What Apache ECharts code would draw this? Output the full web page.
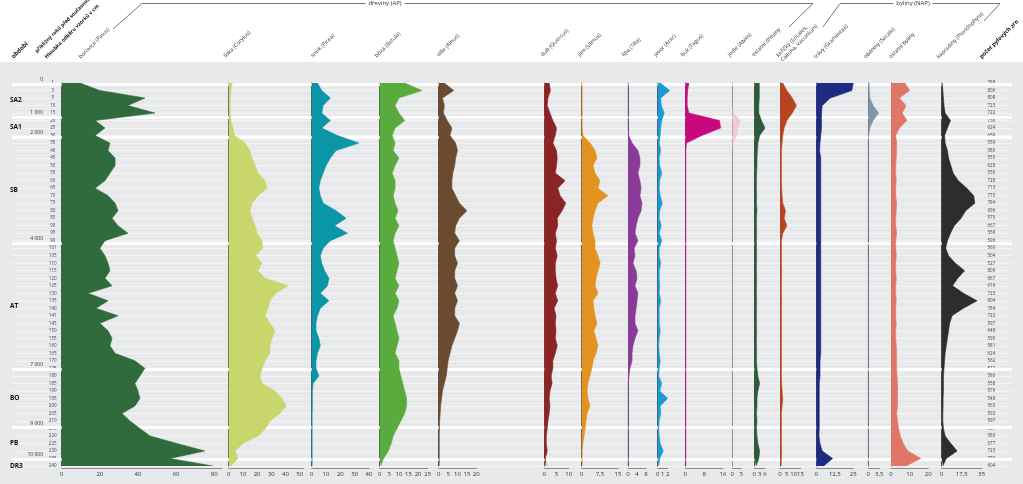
<!DOCTYPE html>
<html><head><meta charset="utf-8">
<script src="https://cdn.jsdelivr.net/npm/echarts@6/dist/echarts.min.js"></script>
<style>html,body{margin:0;padding:0;background:#fff}#c{width:1023px;height:484px}</style>
</head><body><div id="c"></div><script>
// ---------- data ----------
const depths = [1,3,5,10,15,20,25,30,35,40,45,50,55,60,65,70,75,80,85,90,95,99,101,105,110,115,120,125,130,135,140,141,145,150,155,160,165,170,175,180,185,190,195,200,205,210,215,220,225,230,235,240];
const counts = [788,806,808,723,722,738,624,658,559,586,555,628,550,728,713,770,784,696,575,667,558,596,560,504,527,809,667,616,723,804,784,722,597,648,590,581,624,562,572,586,558,576,548,563,592,597,587,580,677,723,770,604];
const zoneNames = ['SA2','SA1','SB','AT','BO','PB','DR3'];
const ageLabels = ['0','1 000','2 000','4 000','7 000','9 000','10 000'];
// zone boundaries in sample-row units (0 = first sample, 51 = last)
const zoneBounds = [0.1, 4.5, 7.2, 21.3, 38.1, 45.9, 50.1];

const borovice = [9.6,20,43.6,34.7,48.9,17.5,22.7,17.5,25.3,24.3,28,28,25.3,22.7,17.5,24.3,28,29.5,26.4,29.5,34.7,22.7,20,22.7,24.3,25.3,22.7,26.4,13.8,24.3,18,29.5,20,24.3,26.4,25.3,28,38.4,43.6,41,38.4,40,41,38.4,31.6,35.8,41,46.3,60.4,75,56.8,79.3];
const liska = [2.5,1.5,1,1,1,1.5,3,4,11.5,15,16.4,18.5,20.6,25.6,27,20.6,16.4,15,16.4,18.5,20,23.5,24,19,23.5,20.6,25.6,41.8,33,29,27.7,25.6,29,32.6,30.5,29,29,25.6,23.5,22,23.5,32.6,37.5,40.4,36,29,26,20.6,10,4.5,6.5,1.5];
const smrk = [4,7,13,8,7,13,7,18,33,17,13,10,8,6,5,6,8,17,24,16,25,13,8,6,7,9,12,11,6,12,6,4,3,3,5,6,4,3,3,5,1,0.5,0.5,0.5,0.3,0.3,0.3,0.3,0.3,0.3,0.3,0.3];
const briza = [13,22,10,8,10,13,8,6.5,8,7,10,8,6.5,8,8,7,8,9.5,8,10,8,7,8,9,10,9,8,10,8,10,9,7,8,9,10,9,8,10,10,11,12,13,14,14,13,11,9,7,6,4.5,2,0.5];
const olse = [3,8,2,3,2.5,4.5,7,6,9,10,9,8.5,7.5,7,7,9,11,15,11,9,8.5,11,8.5,8.5,10,8.5,8.5,10,8.5,10,8.5,8.5,11,10,8.5,7,6,5,4.5,4,3,2,1.5,1,0.8,0.5,0.4,0.3,0.3,0.3,0.3,0.3];
const dub = [2,2.5,1.5,1.2,2.3,3.5,5,4.5,3.5,5,5.3,5,4.5,8.5,5.5,6.5,8.8,7.3,5.3,5.5,4.5,5,4.5,5.3,4.5,4.5,4.8,5.5,4.5,5.5,4,4.8,4.5,4.8,4.5,5.3,4.5,3.5,3.5,2.8,3.2,2.3,2,2.3,2,1.5,1.2,0.8,0.8,1.2,0.4,0.8];
const jilm = [0.2,0.2,0.2,0.2,0.2,0.2,0.2,0.5,3.5,5.5,6.3,4.7,5.5,7.5,6.7,10.8,6.7,5.5,4.7,4.2,4.7,5.5,5.5,6.7,7.6,6.7,5.9,5.5,6.7,4.7,5,5.5,6.3,5,5.9,6.7,5.9,4.7,4.2,3.4,2.6,2.2,2.6,3.4,2.2,1.8,1.4,1,0.5,0.2,0.2,0.2];
const lipa = [0.1,0.1,0.1,0.1,0.1,0.1,0.1,0.3,1.8,4.4,5.3,5.3,4.4,5.3,5.8,5.3,6.2,5.8,4.4,3.6,3.1,4.4,2.7,3.1,2.2,3.6,4,3.1,4.4,4,3.6,3.1,3.1,4.4,3.1,2.2,1.8,1.8,0.9,0.4,0.1,0.1,0.1,0.1,0.1,0.1,0.1,0.1,0.1,0.1,0.1,0.1];
const javor = [0.5,2.4,0.6,0.7,1.3,0.8,0.6,0.5,0.3,0.6,0.3,0.4,0.8,0.4,0.3,0.5,0.9,0.4,0.3,0.7,0.3,0.8,0.3,0.3,0.6,0.3,0.3,0.4,0.3,0.6,0.3,0.3,0.3,0.5,0.3,0.2,0.3,0.5,0.3,0.2,0.8,0.4,2,0.5,0.6,0.3,0.2,0.3,0.5,1.1,0.4,0.2];
const buk = [1.5,1,0.8,0.8,1.5,14.5,15,7,0.5,0.2,0.2,0.2,0.2,0.2,0.2,0.2,0.2,0.2,0.2,0.2,0.2,0.2,0.2,0.2,0.2,0.2,0.2,0.2,0.2,0.2,0.2,0.2,0.2,0.2,0.2,0.2,0.2,0.2,0.2,0.2,0.2,0.2,0.2,0.2,0.2,0.2,0.2,0.2,0.2,0.2,0.2,0.2];
const jedle = [0,0,0,0,0.5,4.5,3,2.5,0.3,0,0,0,0,0,0,0,0,0,0,0,0,0,0,0,0,0,0,0,0,0,0,0,0,0,0,0,0,0,0,0,0,0,0,0,0,0,0,0,0,0,0,0];
const ostDreviny = [2.8,2.8,2.8,2.5,2.5,4,6,3,2,1.8,1.5,1.5,1.3,1.2,1.2,1.3,1.2,1.5,1.2,1.2,1.3,1.2,1.2,1.3,1.2,1.2,1.3,1.2,1.2,1.3,1.2,1.2,1.2,1.3,1.2,1.2,1.3,1.2,1.5,2,3,2,1.5,1.5,1.2,1.5,1.2,1.5,2,3,2.5,1];
const kericky = [2,5,9,12,9,5,3,2,1.5,1,1,1,1,1,1.2,1.5,2,4,3,5,2,1,1,1,1,1.2,1,1,1,1.2,1,1,1,1,1,1,1,1,1,1,1.2,1.5,2,1.5,1,1,1,1,1,1.2,1,0.8];
const travy = [25,24,9.5,4,3.5,3.5,3.5,3,2.5,2.2,3,3,3,3,3,3,3,3,3,3,3,3,3,3,3,3,3,3,3,3,3,3,3,3,3,3,3,2.5,2.5,2.5,2,2,2,2,2,2,2,1.8,2.5,4,11,5];
const obilniny = [0.3,0.3,0.5,1.5,3.3,1.5,0.5,0.1,0,0,0,0,0,0,0,0,0,0,0,0,0,0,0,0,0,0,0,0,0,0,0,0,0,0,0,0,0,0,0,0,0,0,0,0,0,0,0,0,0,0,0,0];
const ostByliny = [7.5,10,4.5,8,6,8.5,4.5,2.5,3,3,2.8,2.5,2.5,2.8,2.5,2.5,3,2.8,2.5,2.5,3,2.5,2.5,2.8,2.5,2.5,2.8,2.5,2.5,2.8,2.5,2.5,2.8,2.5,2.5,2.8,3,3,3,3.2,3.5,3.5,3.5,3.5,3,3.5,4,5,6.5,9,16,8];
const kapradiny = [0.5,1,1.5,2,3,7.7,5,2.5,3,5,6,8,10,14.5,22,28,29,21,17,11,7.7,5,3.5,6,12,20,14,9.5,19,31,19,9,7,6,5,4,3,2.5,2,1.5,1.5,1.5,1.2,1.2,1,1,1.5,3,8,13.5,4,1];

// taxon names and axis ranges (max, tick step)
const taxonNames = ['borovice (Pinus)','líska (Corylus)','smrk (Picea)','bříza (Betula)','olše (Alnus)','dub (Quercus)','jilm (Ulmus)','lípa (Tilia)','javor (Acer)','buk (Fagus)','jedle (Abies)','ostatní dřeviny','keříčky (Ericales,\nCalluna, Vaccinium)','trávy (Gramineae)','obilniny (Secale)','ostatní byliny','kapradiny (Pteridophyta)'];
const taxonData = [borovice,liska,smrk,briza,olse,dub,jilm,lipa,javor,buk,jedle,ostDreviny,kericky,travy,obilniny,ostByliny,kapradiny];
const axisMax = [83.9,52.5,40,25,20,10,15,8,2,16,5,6,15,25,3.5,20,35];
const axisStep = [20,10,10,5,5,5,7.5,4,1,8,5,3,5,12.5,3.5,10,17.5];

// ---------- layout & style ----------
const colors = ['#2f6b3c','#c9d66b','#0a96a6','#5aab3d','#6b4b2f','#8b2424','#e29320','#8a3a97','#1a9bd8','#c8097e','#f3c8da','#2c5a3b','#b4451f','#1f2a82','#8096a8','#e07666','#2d2d2d'];
const panelLeft  = [61.7,228.7,311.7,379.7,438.7,544.3,581.7,628,657.7,685.3,732.3,754.3,780,816.3,868.3,891,941.7];
const panelWidth = [160,74.6,57.3,48,37.6,24.4,36.3,18,10,37.7,9,10.7,20.5,37,11,37.3,40];
const labelPos = [[82,60],[227,59],[314,59],[378,59],[440,58],[544,58],[581,58],[625,58],[657,58],[684,58],[731,58],[755,58],[784,63],[817,60],[867,60],[892,60],[940,60]];
const TOP = 83, H = 383;
const FONT = '"Open Sans", "Noto Sans", sans-serif';

const grids = [], xAxes = [], yAxes = [], series = [];
// background grid (row lines + zone lines)
grids.push({left:12, top:TOP, width:1000, height:H});
xAxes.push({gridIndex:0, type:'value', min:0, max:1, show:false});
yAxes.push({gridIndex:0, type:'value', min:0, max:51, inverse:true, interval:1,
  axisLine:{show:false}, axisTick:{show:false}, axisLabel:{show:false},
  splitLine:{show:true, lineStyle:{color:'#f4f4f6', width:1}}});
series.push({type:'line', xAxisIndex:0, yAxisIndex:0, data:[[0,0]], symbol:'none', lineStyle:{opacity:0}, silent:true, z:1,
  markLine:{silent:true, z:1, symbol:'none', label:{show:false}, lineStyle:{color:'#ffffff', width:3, type:'solid'},
    data: zoneBounds.map(b => ({yAxis:b}))}});

const fmt = v => String(v).replace('.', ',');
taxonData.forEach((arr, k) => {
  const gi = grids.length;
  grids.push({left:panelLeft[k], top:TOP, width:panelWidth[k], height:H});
  xAxes.push({gridIndex:gi, type:'value', min:0, max:axisMax[k], interval:axisStep[k], offset:2,
    axisLine:{show:true, lineStyle:{color:'#8c8c8c', width:1}}, axisTick:{show:false},
    axisLabel:{fontSize:6, margin:3, color:'#333', fontFamily:FONT, formatter:fmt, showMaxLabel: k<2 ? false : true},
    splitLine:{show:false}});
  yAxes.push({gridIndex:gi, type:'category', data:depths, inverse:true, boundaryGap:false,
    axisLine:{show:true, lineStyle:{color:'#555', width:1}}, axisTick:{show:false},
    axisLabel: k===0 ? {show:true, interval:0, fontSize:4.5, margin:9, align:'center', color:'#444', fontFamily:FONT} : {show:false},
    splitLine:{show:false}});
  series.push({type:'line', xAxisIndex:gi, yAxisIndex:gi, data: arr.map((v,i)=>[v,i]),
    symbol:'none', clip:false, z:3, lineStyle:{color:colors[k], width:0.6},
    areaStyle:{color:colors[k], opacity:1}});
});
// counts column
const cg = grids.length;
grids.push({left:980, top:TOP, width:6, height:H});
xAxes.push({gridIndex:cg, type:'value', min:0, max:1, show:false});
yAxes.push({gridIndex:cg, type:'category', data:counts, inverse:true, boundaryGap:false, position:'right',
  axisLine:{show:false}, axisTick:{show:false},
  axisLabel:{show:true, interval:0, fontSize:4.5, margin:1.5, color:'#444', fontFamily:FONT}});

// header graphics
const graphic = [];
graphic.push({type:'rect', z:-100, shape:{x:0, y:62, width:1023, height:422}, style:{fill:'#e8e9eb'}, silent:true});
const rot = Math.PI/4;
function rtext(txt, x, y, size, bold, col){
  graphic.push({type:'text', x:x, y:y, rotation:rot, z:10,
    style:{text:txt, fontSize:size, fontWeight: bold?'bold':'normal', fill:col||'#333', fontFamily:FONT,
      textAlign:'left', textVerticalAlign:'bottom', lineHeight:size+1}});
}
rtext('období', 15, 60, 6, true, '#111');
rtext('přibližný roků před současností', 38, 54, 5, true, '#111');
rtext('Hloubka odběru vzorků v cm', 48, 60, 5.2, true, '#111');
taxonNames.forEach((n,k) => rtext(n, labelPos[k][0], labelPos[k][1], 5.5, false, '#333'));
rtext('počet pylových zrn', 983, 60, 5.6, true, '#111');
const lineStyle = {stroke:'#555', lineWidth:0.8, fill:null};
graphic.push({type:'polyline', z:5, shape:{points:[[113,29],[142,3.5],[813,3.5],[789,27]]}, style:lineStyle});
graphic.push({type:'polyline', z:5, shape:{points:[[823,27],[840,3.5],[1000,3.5],[984,21]]}, style:lineStyle});
graphic.push({type:'text', x:385, y:3.5, z:6, style:{text:'dřeviny (AP)', fontSize:6, fill:'#333', fontFamily:FONT, textAlign:'center', textVerticalAlign:'middle', backgroundColor:'#fff', padding:[0,3]}});
graphic.push({type:'text', x:913, y:3.5, z:6, style:{text:'byliny (NAP)', fontSize:6, fill:'#333', fontFamily:FONT, textAlign:'center', textVerticalAlign:'middle', backgroundColor:'#fff', padding:[0,3]}});

const chart = echarts.init(document.getElementById('c'), null, {renderer:'canvas'});
chart.setOption({animation:false, backgroundColor:'#ffffff', grid:grids, xAxis:xAxes, yAxis:yAxes, series:series, graphic:graphic});

// zone and age labels placed through the background grid's scale
const extra = [];
zoneBounds.forEach((b, k) => {
  const yb = chart.convertToPixel({gridIndex:0}, [0, b])[1];
  extra.push({type:'text', x:43, y:yb-2, z:10, style:{text:ageLabels[k], fontSize:5, fill:'#333', fontFamily:FONT, textAlign:'right', textVerticalAlign:'bottom'}});
  const next = k < zoneBounds.length-1 ? zoneBounds[k+1] : 52;
  const ym = chart.convertToPixel({gridIndex:0}, [0, (b+next)/2])[1];
  extra.push({type:'text', x:10, y:ym, z:10, style:{text:zoneNames[k], fontSize:6.5, fontWeight:'bold', fill:'#111', fontFamily:FONT, textAlign:'left', textVerticalAlign:'middle'}});
});
chart.setOption({graphic: graphic.concat(extra)});
</script></body></html>
